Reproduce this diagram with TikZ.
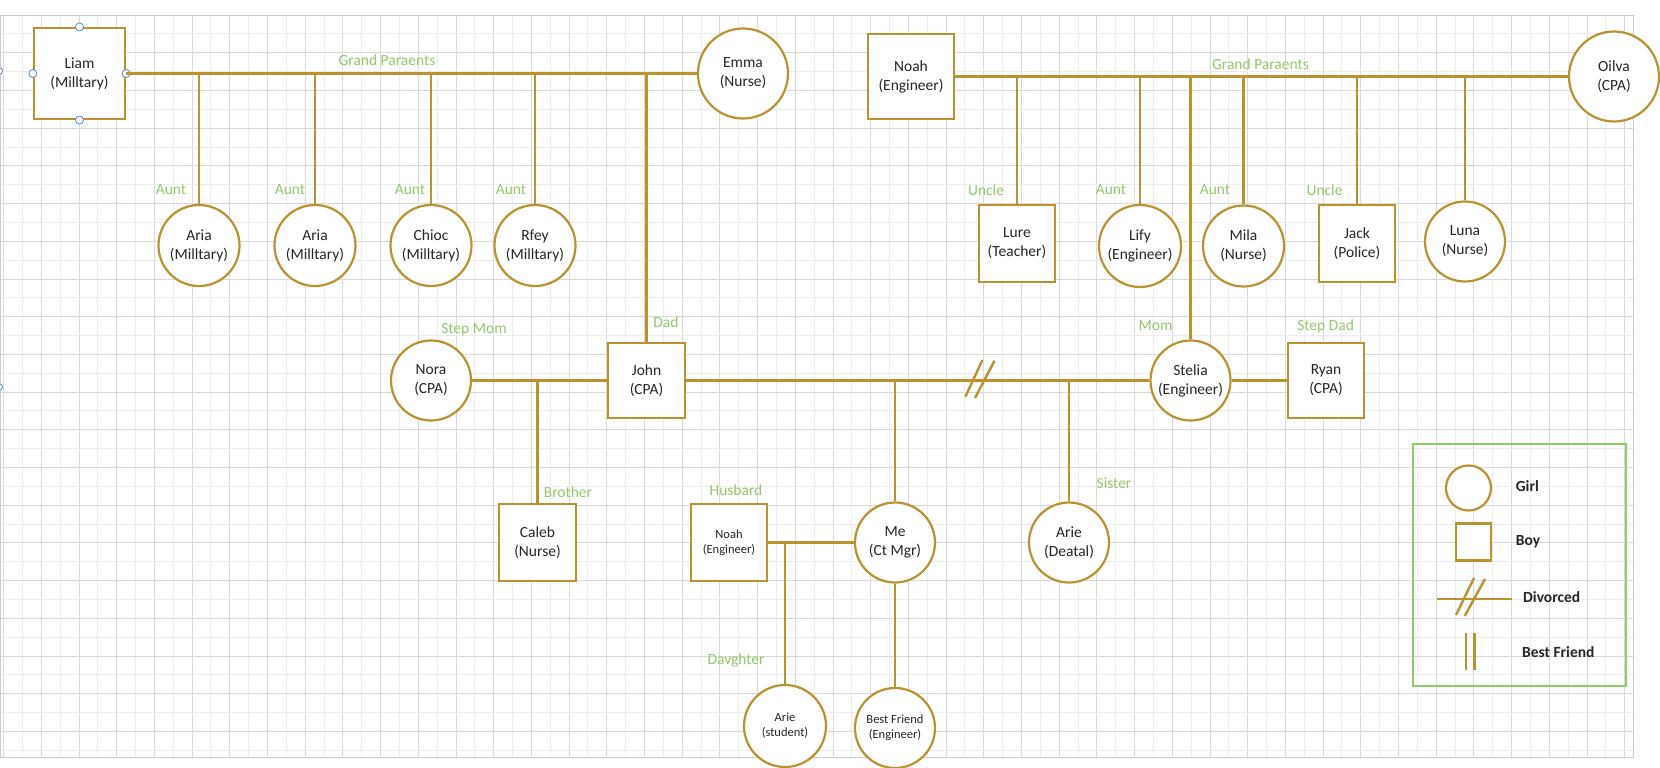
\documentclass[tikz,border=0pt]{standalone}
\usepackage{fontspec}
\setmainfont{Carlito}
\usepackage{tikz}
\definecolor{kinline}{RGB}{186,146,48}
\definecolor{kingreen}{RGB}{146,200,110}
\definecolor{legendgreen}{RGB}{140,205,100}
\definecolor{handleblue}{RGB}{80,140,200}

\begin{document}
\begin{tikzpicture}[
    x=1pt, y=-1pt,
    font=\fontsize{15.5}{19}\selectfont,
    gridline/.style={gray!14, line width=0.8pt},
    gridmajor/.style={gray!30, line width=0.8pt},
    tie/.style={kinline, line width=2.4pt},
    girl/.style={draw=kinline, line width=2.2pt, fill=white, circle, inner sep=0pt, minimum size=81pt, align=center, text=black!85},
    boy/.style={draw=kinline, line width=2.2pt, fill=white, rectangle, inner sep=0pt, minimum width=77pt, minimum height=77pt, align=center, text=black!85},
    role/.style={text=kingreen, inner sep=0pt},
    small/.style={font=\fontsize{12.5}{15}\selectfont},
    legtxt/.style={font=\bfseries\fontsize{15.5}{19}\selectfont, anchor=west, inner sep=0pt, text=black!85},
    handle/.style={draw=handleblue, fill=white, line width=0.8pt},
]
\useasboundingbox (0,0) rectangle (1660,768);
\fill[white] (0,0) rectangle (1660,768);

% --- Background grid (every other line a bit darker) ---
\foreach \gx in {0,...,86} {
    \pgfmathsetmacro{\gpos}{3.5+18.85*\gx}
    \ifodd\gx
        \draw[gridline] (\gpos,15) -- (\gpos,757);
    \else
        \draw[gridmajor] (\gpos,15) -- (\gpos,757);
    \fi
}
\foreach \gy in {0,...,39} {
    \pgfmathsetmacro{\gpos}{15+18.85*\gy}
    \ifodd\gy
        \draw[gridline] (0,\gpos) -- (1633,\gpos);
    \else
        \draw[gridmajor] (0,\gpos) -- (1633,\gpos);
    \fi
}
\draw[gray!40, line width=0.8pt] (0,15) rectangle (1633,757);

% --- Father's parents and their children ---
\node[boy, minimum width=91pt, minimum height=91pt] (liam) at (79.5,73.5) {Liam\\(Milltary)};
\node[girl, minimum size=90pt] (emma) at (743,73.5) {Emma\\(Nurse)};
\node[girl] (aria1) at (199,245.5) {Aria\\(Milltary)};
\node[girl] (aria2) at (315,245.5) {Aria\\(Milltary)};
\node[girl] (chioc) at (431,245.5) {Chioc\\(Milltary)};
\node[girl] (rfey) at (535,245.5) {Rfey\\(Milltary)};

% selection handles on Liam, and two cut off at the left edge
\foreach \side in {north,south,east,west}
    \draw[handle] (liam.\side) circle (4);
\draw[handle] (-1,71) circle (3.5);
\draw[handle] (-1,387) circle (3.5);

% --- Mother's parents and their children ---
\node[boy, minimum width=86pt, minimum height=85pt] (noah) at (911,76.5) {Noah\\(Engineer)};
\node[girl, minimum size=90pt] (oilva) at (1614,76.5) {Oilva\\(CPA)};
\node[boy, minimum width=76pt] (lure) at (1017,243.5) {Lure\\(Teacher)};
\node[girl, minimum size=82pt] (lify) at (1140,246) {Lify\\(Engineer)};
\node[girl] (mila) at (1243.5,246) {Mila\\(Nurse)};
\node[boy, minimum width=76pt] (jack) at (1357,243.5) {Jack\\(Police)};
\node[girl, minimum size=80pt] (luna) at (1465,241.5) {Luna\\(Nurse)};

% --- Parents row ---
\node[girl, minimum size=80pt] (nora) at (431,380.5) {Nora\\(CPA)};
\node[boy, minimum height=75pt] (john) at (646.5,380.5) {John\\(CPA)};
\node[girl, minimum size=80pt] (stelia) at (1190.5,380.5) {Stelia\\(Engineer)};
\node[boy, minimum width=76pt, minimum height=75pt] (ryan) at (1326,380.5) {Ryan\\(CPA)};

% --- Children row ---
\node[boy] (caleb) at (537.5,542.5) {Caleb\\(Nurse)};
\node[boy, small, minimum width=76.5pt] (husb) at (729,542.5) {Noah\\(Engineer)};
\node[girl, minimum size=80pt] (me) at (895,542.5) {Me\\(Ct Mgr)};
\node[girl, minimum size=80pt] (sis) at (1069,542.5) {Arie\\(Deatal)};
\node[girl, small, minimum size=82pt] (kid) at (785,726) {Arie\\(student)};
\node[girl, small, minimum size=80pt] (bff) at (895,728) {Best Friend\\(Engineer)};

% --- Connectors ---
\draw[tie] (liam) -- (emma);
\foreach \aunt in {aria1,aria2,chioc,rfey}
    \draw[tie] (\aunt.north) -- (\aunt.north |- liam.east);
\draw[tie] (john.north) -- (john.north |- emma.west);
\draw[tie] (noah) -- (oilva);
\foreach \sib in {lure,lify,mila,jack,luna}
    \draw[tie] (\sib.north) -- (\sib.north |- noah.east);
\draw[tie] (stelia.north) -- (stelia.north |- noah.east);
\draw[tie] (nora) -- (john);
\draw[tie] (caleb.north) -- (caleb.north |- john.west);
\draw[tie] (john) -- (stelia);
\draw[tie] (stelia) -- (ryan);
\draw[tie] (me.north) -- (me.north |- john.east);
\draw[tie] (sis.north) -- (sis.north |- john.east);
\draw[tie] (husb) -- (me);
\draw[tie] (kid.north) -- (kid.north |- me.west);
\draw[tie] (me) -- (bff);

% divorce mark on the John--Stelia line
\coordinate (split) at (979,380.5);
\draw[tie] (split) ++(-13.6,16.2) -- ++(17,-36.7);
\draw[tie] (split) ++(-4,17.5) -- ++(19.5,-37.3);

% --- Relation labels (green) ---
\node[role] (gp1) at (387,60) {Grand Paraents};
\node[role] (gp2) at (1260.5,64) {Grand Paraents};
\node[role] (r1) at (171,190) {Aunt};
\node[role] (r2) at (290,190) {Aunt};
\node[role] (r3) at (410,190) {Aunt};
\node[role] (r4) at (511,190) {Aunt};
\node[role] (r5) at (986,190) {Uncle};
\node[role] (r6) at (1111,190) {Aunt};
\node[role] (r7) at (1215,190) {Aunt};
\node[role] (r8) at (1324.5,190) {Uncle};
\node[role] (r9) at (474,330) {Step Mom};
\node[role] (r10) at (666,322) {Dad};
\node[role] (r11) at (1155.5,326) {Mom};
\node[role] (r12) at (1325.6,326) {Step Dad};
\node[role] (r13) at (568,492) {Brother};
\node[role] (r14) at (736,490) {Husbard};
\node[role] (r15) at (1114,483) {Sister};
\node[role] (r16) at (736,660) {Davghter};

% --- Legend ---
\node[draw=legendgreen, line width=2pt, inner sep=0pt, minimum width=212.6pt, minimum height=242pt] (legend) at (1519.3,565) {};
\node[girl, minimum size=45pt] (leggirl) at (1468.5,488) {};
\node[boy, minimum width=35pt, minimum height=37pt] (legboy) at (1473.5,542) {};
\draw[tie] (1436.6,599) -- (1511.7,599);
\draw[tie] (1456,615) -- (1474,578);
\draw[tie] (1464.7,616) -- (1485,579);
\draw[tie] (1466,633) -- (1466,670);
\draw[tie] (1474.4,633) -- (1474.4,670);
\node[legtxt] (lgirl) at (1515.6,486) {Girl};
\node[legtxt] (lboy) at (1515.6,542) {Boy};
\node[legtxt] (ldiv) at (1523,597) {Divorced};
\node[legtxt] (lbff) at (1522,652) {Best Friend};

\end{tikzpicture}
\end{document}
